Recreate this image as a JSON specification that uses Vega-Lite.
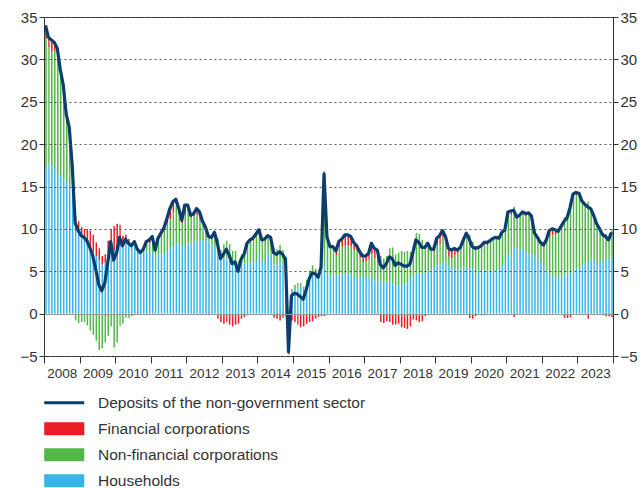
{
"$schema": "https://vega.github.io/schema/vega-lite/v6.json",
"width": 569, "height": 339,
"autosize": {"type": "none"},
"padding": {"left": 44, "top": 17, "right": 29, "bottom": 132},
"config": {
  "view": {"stroke": "#333", "strokeWidth": 1},
  "font": "Liberation Sans, Arial, sans-serif"
},
"data": {"values": [
{"d":"2008-01","t":34.0,"h":17.3,"n":15.2,"f":1.5},
{"d":"2008-02","t":32.6,"h":17.7,"n":13.7,"f":1.2},
{"d":"2008-03","t":32.3,"h":17.5,"n":13.5,"f":1.3},
{"d":"2008-04","t":32.0,"h":17.1,"n":13.9,"f":1.0},
{"d":"2008-05","t":31.3,"h":16.5,"n":14.0,"f":0.8},
{"d":"2008-06","t":28.8,"h":16.2,"n":12.0,"f":0.6},
{"d":"2008-07","t":27.0,"h":15.8,"n":10.4,"f":0.8},
{"d":"2008-08","t":23.5,"h":15.4,"n":7.1,"f":1.0},
{"d":"2008-09","t":22.0,"h":15.2,"n":5.9,"f":0.9},
{"d":"2008-10","t":17.5,"h":14.5,"n":2.5,"f":0.5},
{"d":"2008-11","t":10.7,"h":11.0,"n":-0.8,"f":0.5},
{"d":"2008-12","t":9.8,"h":9.6,"n":-1.1,"f":1.3},
{"d":"2009-01","t":9.2,"h":9.0,"n":-1.0,"f":1.2},
{"d":"2009-02","t":9.0,"h":8.6,"n":-1.0,"f":1.4},
{"d":"2009-03","t":8.6,"h":8.2,"n":-1.4,"f":1.8},
{"d":"2009-04","t":7.8,"h":7.8,"n":-2.0,"f":2.0},
{"d":"2009-05","t":6.8,"h":7.3,"n":-2.5,"f":2.0},
{"d":"2009-06","t":5.2,"h":6.8,"n":-3.2,"f":1.6},
{"d":"2009-07","t":3.4,"h":6.3,"n":-4.3,"f":1.4},
{"d":"2009-08","t":2.7,"h":5.8,"n":-4.1,"f":1.0},
{"d":"2009-09","t":3.6,"h":6.0,"n":-3.4,"f":1.0},
{"d":"2009-10","t":6.0,"h":6.8,"n":-2.6,"f":1.8},
{"d":"2009-11","t":8.5,"h":7.8,"n":-1.5,"f":2.2},
{"d":"2009-12","t":6.3,"h":7.5,"n":-4.0,"f":2.8},
{"d":"2010-01","t":7.2,"h":7.8,"n":-3.4,"f":2.8},
{"d":"2010-02","t":9.0,"h":8.0,"n":-1.5,"f":2.5},
{"d":"2010-03","t":8.0,"h":8.0,"n":-1.2,"f":1.2},
{"d":"2010-04","t":8.8,"h":8.3,"n":-0.5,"f":1.0},
{"d":"2010-05","t":8.3,"h":8.2,"n":-0.5,"f":0.6},
{"d":"2010-06","t":8.0,"h":8.0,"n":-0.3,"f":0.3},
{"d":"2010-07","t":8.5,"h":8.2,"n":0.0,"f":0.3},
{"d":"2010-08","t":7.6,"h":7.5,"n":-0.1,"f":0.2},
{"d":"2010-09","t":7.2,"h":7.2,"n":-0.1,"f":0.1},
{"d":"2010-10","t":7.6,"h":7.2,"n":0.3,"f":0.1},
{"d":"2010-11","t":8.5,"h":7.5,"n":0.7,"f":0.3},
{"d":"2010-12","t":8.7,"h":7.3,"n":1.0,"f":0.4},
{"d":"2011-01","t":9.1,"h":7.0,"n":1.5,"f":0.6},
{"d":"2011-02","t":7.5,"h":6.9,"n":0.4,"f":0.2},
{"d":"2011-03","t":8.9,"h":7.0,"n":1.6,"f":0.3},
{"d":"2011-04","t":9.5,"h":7.0,"n":2.3,"f":0.2},
{"d":"2011-05","t":10.1,"h":7.1,"n":2.8,"f":0.2},
{"d":"2011-06","t":11.2,"h":7.5,"n":3.2,"f":0.5},
{"d":"2011-07","t":12.4,"h":7.7,"n":3.4,"f":1.3},
{"d":"2011-08","t":13.2,"h":7.9,"n":4.1,"f":1.2},
{"d":"2011-09","t":13.5,"h":8.3,"n":4.7,"f":0.5},
{"d":"2011-10","t":12.4,"h":8.2,"n":3.4,"f":0.8},
{"d":"2011-11","t":11.0,"h":8.0,"n":2.7,"f":0.3},
{"d":"2011-12","t":12.8,"h":8.1,"n":3.5,"f":1.2},
{"d":"2012-01","t":12.8,"h":8.3,"n":3.7,"f":0.8},
{"d":"2012-02","t":11.6,"h":8.5,"n":2.8,"f":0.3},
{"d":"2012-03","t":11.8,"h":8.5,"n":3.0,"f":0.3},
{"d":"2012-04","t":12.4,"h":8.5,"n":3.1,"f":0.8},
{"d":"2012-05","t":12.0,"h":8.7,"n":2.4,"f":0.9},
{"d":"2012-06","t":10.9,"h":8.6,"n":2.0,"f":0.3},
{"d":"2012-07","t":10.2,"h":8.7,"n":1.5,"f":0.0},
{"d":"2012-08","t":9.1,"h":8.5,"n":0.8,"f":-0.2},
{"d":"2012-09","t":9.0,"h":8.1,"n":1.0,"f":-0.1},
{"d":"2012-10","t":9.6,"h":7.9,"n":1.7,"f":0.0},
{"d":"2012-11","t":8.3,"h":7.1,"n":1.8,"f":-0.6},
{"d":"2012-12","t":6.5,"h":6.7,"n":0.8,"f":-1.0},
{"d":"2013-01","t":7.0,"h":6.5,"n":1.7,"f":-1.2},
{"d":"2013-02","t":7.6,"h":6.6,"n":2.0,"f":-1.0},
{"d":"2013-03","t":6.9,"h":6.3,"n":1.9,"f":-1.3},
{"d":"2013-04","t":5.9,"h":5.9,"n":1.5,"f":-1.5},
{"d":"2013-05","t":6.1,"h":5.8,"n":1.6,"f":-1.3},
{"d":"2013-06","t":5.0,"h":5.4,"n":0.8,"f":-1.2},
{"d":"2013-07","t":6.4,"h":5.7,"n":1.3,"f":-0.6},
{"d":"2013-08","t":7.0,"h":5.9,"n":1.5,"f":-0.4},
{"d":"2013-09","t":8.3,"h":6.0,"n":2.5,"f":-0.2},
{"d":"2013-10","t":8.7,"h":6.0,"n":2.6,"f":0.1},
{"d":"2013-11","t":8.9,"h":6.1,"n":2.5,"f":0.3},
{"d":"2013-12","t":9.4,"h":6.1,"n":3.0,"f":0.3},
{"d":"2014-01","t":9.9,"h":6.9,"n":2.8,"f":0.2},
{"d":"2014-02","t":8.7,"h":6.3,"n":2.4,"f":0.0},
{"d":"2014-03","t":8.8,"h":6.2,"n":2.5,"f":0.1},
{"d":"2014-04","t":9.2,"h":6.9,"n":2.2,"f":0.1},
{"d":"2014-05","t":9.0,"h":7.1,"n":1.9,"f":0.0},
{"d":"2014-06","t":7.2,"h":5.8,"n":1.9,"f":-0.5},
{"d":"2014-07","t":7.0,"h":5.8,"n":1.8,"f":-0.6},
{"d":"2014-08","t":7.3,"h":5.9,"n":2.2,"f":-0.8},
{"d":"2014-09","t":7.0,"h":5.8,"n":1.7,"f":-0.5},
{"d":"2014-10","t":6.4,"h":5.5,"n":1.2,"f":-0.3},
{"d":"2014-11","t":-4.5,"h":0.3,"n":-2.6,"f":-2.2},
{"d":"2014-12","t":2.1,"h":2.7,"n":0.2,"f":-0.8},
{"d":"2015-01","t":2.4,"h":2.9,"n":0.5,"f":-1.0},
{"d":"2015-02","t":2.3,"h":3.0,"n":0.6,"f":-1.3},
{"d":"2015-03","t":2.0,"h":3.2,"n":0.4,"f":-1.6},
{"d":"2015-04","t":1.7,"h":3.1,"n":0.1,"f":-1.5},
{"d":"2015-05","t":2.8,"h":3.4,"n":0.6,"f":-1.2},
{"d":"2015-06","t":4.1,"h":4.0,"n":1.1,"f":-1.0},
{"d":"2015-07","t":4.8,"h":4.6,"n":1.1,"f":-0.9},
{"d":"2015-08","t":4.7,"h":4.4,"n":0.9,"f":-0.6},
{"d":"2015-09","t":4.3,"h":4.4,"n":0.3,"f":-0.4},
{"d":"2015-10","t":5.5,"h":4.6,"n":1.2,"f":-0.3},
{"d":"2015-11","t":16.5,"h":5.7,"n":11.1,"f":-0.3},
{"d":"2015-12","t":9.0,"h":4.8,"n":4.2,"f":0.0},
{"d":"2016-01","t":7.9,"h":4.4,"n":3.5,"f":0.0},
{"d":"2016-02","t":7.9,"h":4.6,"n":3.2,"f":0.1},
{"d":"2016-03","t":7.4,"h":4.5,"n":2.4,"f":0.5},
{"d":"2016-04","t":8.5,"h":4.6,"n":3.3,"f":0.6},
{"d":"2016-05","t":8.8,"h":4.7,"n":3.2,"f":0.9},
{"d":"2016-06","t":9.3,"h":4.8,"n":3.3,"f":1.2},
{"d":"2016-07","t":9.3,"h":4.7,"n":3.3,"f":1.3},
{"d":"2016-08","t":9.1,"h":4.6,"n":3.3,"f":1.2},
{"d":"2016-09","t":8.4,"h":4.5,"n":3.0,"f":0.9},
{"d":"2016-10","t":8.0,"h":4.3,"n":3.1,"f":0.6},
{"d":"2016-11","t":7.3,"h":4.2,"n":2.4,"f":0.7},
{"d":"2016-12","t":6.8,"h":4.4,"n":1.7,"f":0.7},
{"d":"2017-01","t":6.8,"h":4.4,"n":1.8,"f":0.6},
{"d":"2017-02","t":7.1,"h":4.3,"n":2.1,"f":0.7},
{"d":"2017-03","t":8.3,"h":4.2,"n":2.9,"f":1.2},
{"d":"2017-04","t":7.7,"h":3.9,"n":2.6,"f":1.2},
{"d":"2017-05","t":7.5,"h":3.8,"n":2.3,"f":1.4},
{"d":"2017-06","t":5.8,"h":3.8,"n":3.0,"f":-1.0},
{"d":"2017-07","t":5.4,"h":3.8,"n":2.7,"f":-1.1},
{"d":"2017-08","t":5.9,"h":3.7,"n":3.1,"f":-0.9},
{"d":"2017-09","t":6.7,"h":3.8,"n":3.9,"f":-1.0},
{"d":"2017-10","t":6.5,"h":3.6,"n":4.2,"f":-1.3},
{"d":"2017-11","t":5.7,"h":3.3,"n":3.7,"f":-1.3},
{"d":"2017-12","t":6.0,"h":3.5,"n":3.7,"f":-1.2},
{"d":"2018-01","t":5.8,"h":3.3,"n":4.1,"f":-1.6},
{"d":"2018-02","t":5.6,"h":3.5,"n":3.8,"f":-1.7},
{"d":"2018-03","t":5.6,"h":3.7,"n":3.7,"f":-1.8},
{"d":"2018-04","t":5.8,"h":4.2,"n":3.1,"f":-1.5},
{"d":"2018-05","t":7.2,"h":4.5,"n":3.4,"f":-0.7},
{"d":"2018-06","t":8.7,"h":4.8,"n":4.7,"f":-0.8},
{"d":"2018-07","t":8.4,"h":4.8,"n":4.6,"f":-1.0},
{"d":"2018-08","t":7.8,"h":4.8,"n":3.9,"f":-0.9},
{"d":"2018-09","t":7.8,"h":4.8,"n":3.3,"f":-0.3},
{"d":"2018-10","t":8.3,"h":5.0,"n":3.3,"f":0.0},
{"d":"2018-11","t":7.6,"h":5.2,"n":2.4,"f":0.0},
{"d":"2018-12","t":7.6,"h":5.5,"n":1.8,"f":0.3},
{"d":"2019-01","t":8.9,"h":5.7,"n":2.4,"f":0.8},
{"d":"2019-02","t":9.2,"h":5.8,"n":2.4,"f":1.0},
{"d":"2019-03","t":9.8,"h":5.9,"n":3.1,"f":0.8},
{"d":"2019-04","t":9.1,"h":6.0,"n":2.5,"f":0.6},
{"d":"2019-05","t":7.7,"h":5.6,"n":1.1,"f":1.0},
{"d":"2019-06","t":7.5,"h":5.4,"n":1.1,"f":1.0},
{"d":"2019-07","t":7.7,"h":5.2,"n":1.7,"f":0.8},
{"d":"2019-08","t":7.5,"h":5.2,"n":1.9,"f":0.4},
{"d":"2019-09","t":7.8,"h":5.2,"n":2.4,"f":0.2},
{"d":"2019-10","t":8.7,"h":5.4,"n":3.0,"f":0.3},
{"d":"2019-11","t":9.5,"h":5.4,"n":4.1,"f":0.0},
{"d":"2019-12","t":8.8,"h":5.3,"n":4.0,"f":-0.5},
{"d":"2020-01","t":7.9,"h":5.3,"n":3.2,"f":-0.6},
{"d":"2020-02","t":7.7,"h":5.0,"n":3.0,"f":-0.3},
{"d":"2020-03","t":7.8,"h":4.8,"n":3.0,"f":0.0},
{"d":"2020-04","t":8.0,"h":5.0,"n":3.2,"f":-0.2},
{"d":"2020-05","t":8.4,"h":5.2,"n":3.4,"f":-0.2},
{"d":"2020-06","t":8.4,"h":5.1,"n":3.0,"f":0.3},
{"d":"2020-07","t":8.6,"h":5.0,"n":3.6,"f":0.0},
{"d":"2020-08","t":8.9,"h":5.0,"n":3.9,"f":0.0},
{"d":"2020-09","t":9.0,"h":5.1,"n":3.9,"f":0.0},
{"d":"2020-10","t":8.9,"h":5.5,"n":3.4,"f":0.0},
{"d":"2020-11","t":9.6,"h":5.6,"n":4.0,"f":0.0},
{"d":"2020-12","t":9.9,"h":6.2,"n":3.4,"f":0.3},
{"d":"2021-01","t":12.0,"h":6.9,"n":4.8,"f":0.3},
{"d":"2021-02","t":12.1,"h":7.4,"n":4.2,"f":0.5},
{"d":"2021-03","t":12.2,"h":7.8,"n":4.8,"f":-0.4},
{"d":"2021-04","t":11.4,"h":7.7,"n":3.7,"f":0.0},
{"d":"2021-05","t":11.6,"h":7.6,"n":4.0,"f":0.0},
{"d":"2021-06","t":12.0,"h":7.5,"n":4.3,"f":0.2},
{"d":"2021-07","t":11.8,"h":7.4,"n":4.1,"f":0.3},
{"d":"2021-08","t":11.9,"h":7.0,"n":4.6,"f":0.3},
{"d":"2021-09","t":11.5,"h":7.0,"n":3.9,"f":0.6},
{"d":"2021-10","t":9.5,"h":6.7,"n":2.8,"f":0.0},
{"d":"2021-11","t":9.0,"h":6.4,"n":2.6,"f":0.0},
{"d":"2021-12","t":8.4,"h":6.0,"n":2.4,"f":0.0},
{"d":"2022-01","t":8.1,"h":5.5,"n":2.3,"f":0.3},
{"d":"2022-02","t":8.7,"h":5.0,"n":3.4,"f":0.3},
{"d":"2022-03","t":9.8,"h":4.6,"n":4.5,"f":0.7},
{"d":"2022-04","t":10.0,"h":4.4,"n":4.9,"f":0.7},
{"d":"2022-05","t":9.9,"h":4.3,"n":5.0,"f":0.6},
{"d":"2022-06","t":9.7,"h":4.1,"n":5.6,"f":0.0},
{"d":"2022-07","t":10.3,"h":4.4,"n":5.9,"f":0.0},
{"d":"2022-08","t":10.9,"h":4.7,"n":6.7,"f":-0.5},
{"d":"2022-09","t":11.3,"h":4.7,"n":7.1,"f":-0.5},
{"d":"2022-10","t":12.5,"h":4.8,"n":8.1,"f":-0.4},
{"d":"2022-11","t":14.1,"h":5.0,"n":9.1,"f":0.0},
{"d":"2022-12","t":14.3,"h":5.3,"n":8.7,"f":0.3},
{"d":"2023-01","t":14.2,"h":5.5,"n":8.4,"f":0.3},
{"d":"2023-02","t":13.3,"h":5.7,"n":7.6,"f":0.0},
{"d":"2023-03","t":12.9,"h":5.9,"n":7.0,"f":0.0},
{"d":"2023-04","t":12.6,"h":6.1,"n":7.1,"f":-0.6},
{"d":"2023-05","t":12.4,"h":6.5,"n":5.9,"f":0.0},
{"d":"2023-06","t":11.6,"h":6.3,"n":5.3,"f":0.0},
{"d":"2023-07","t":10.6,"h":6.1,"n":4.5,"f":0.0},
{"d":"2023-08","t":10.0,"h":6.0,"n":4.0,"f":0.0},
{"d":"2023-09","t":9.3,"h":6.3,"n":3.2,"f":-0.2},
{"d":"2023-10","t":9.1,"h":6.4,"n":3.0,"f":-0.3},
{"d":"2023-11","t":8.7,"h":6.4,"n":2.6,"f":-0.3},
{"d":"2023-12","t":9.6,"h":6.7,"n":3.3,"f":-0.4}
]},
"layer": [
{
  "transform": [
    {"fold": ["h", "n", "f"], "as": ["k", "v"]},
    {"calculate": "indexof(['h','n','f'], datum.k)", "as": "o"}
  ],
  "mark": {"type": "bar", "width": {"band": 0.84}},
  "encoding": {
    "x": {"field": "d", "timeUnit": "utcyearmonth", "type": "temporal",
      "scale": {"type": "utc", "domain": [{"year": 2008, "month": 1, "date": 1, "utc": true}, {"year": 2024, "month": 1, "date": 1, "utc": true}]},
      "axis": {"title": null, "tickCount": {"interval": "year", "step": 1},
        "labelExpr": "utcyear(datum.value) > 2023 ? '' : utcFormat(datum.value, '%Y')",
        "labelOffset": 17.8, "labelAlign": "center", "labelFlush": false, "labelOverlap": false,
        "labelFontSize": 13.5, "labelColor": "#333", "labelPadding": 3,
        "tickSize": 7, "tickColor": "#333", "domainColor": "#333", "grid": false}},
    "y": {"field": "v", "type": "quantitative", "stack": "zero",
      "scale": {"domain": [-5, 35], "nice": false},
      "axis": {"orient": "left", "title": null, "values": [-5, 0, 5, 10, 15, 20, 25, 30, 35],
        "tickSize": 5, "tickColor": "#333", "domainColor": "#333",
        "labelFontSize": 15, "labelColor": "#333", "labelPadding": 2,
        "grid": true, "zindex": 1,
        "gridDash": {"condition": {"test": "datum.value === 0", "value": []}, "value": [2, 3]},
        "gridColor": {"condition": {"test": "datum.value === 0", "value": "#999"}, "value": "#555"}}},
    "color": {"field": "k", "type": "nominal",
      "scale": {"domain": ["t", "f", "n", "h"], "range": ["#0b3d6f", "#ec1c24", "#52b748", "#37b5e7"]},
      "legend": {"orient": "none", "legendX": 12.5, "legendY": 378, "direction": "vertical", "title": null, "padding": 0,
        "symbolSize": 169, "symbolType": "M-3.08,-1H3.08V1H-3.08Z", "symbolStrokeWidth": 0,
        "labelFontSize": 15.5, "labelColor": "#333", "labelOffset": 26, "rowPadding": 9, "labelLimit": 500,
        "labelExpr": "datum.label == 't' ? 'Deposits of the non-government sector' : datum.label == 'f' ? 'Financial corporations' : datum.label == 'n' ? 'Non-financial corporations' : 'Households'",
        "encode": {"symbols": {"update": {
          "shape": {"signal": "datum.value == 't' ? 'M-3.08,-0.23H3.08V0.23H-3.08Z' : 'M-3.08,-1H3.08V1H-3.08Z'"},
          "fill": {"scale": "color", "field": "value"},
          "stroke": {"value": "transparent"},
          "opacity": {"value": 1}}}}}},
    "order": {"field": "o", "type": "quantitative"}
  }
},
{
  "mark": {"type": "line", "strokeWidth": 3.2, "strokeJoin": "round"},
  "encoding": {
    "x": {"field": "d", "timeUnit": "utcyearmonth", "type": "temporal", "bandPosition": 0.5},
    "y": {"field": "t", "type": "quantitative",
      "scale": {"domain": [-5, 35], "nice": false},
      "axis": {"orient": "right", "title": null, "values": [-5, 0, 5, 10, 15, 20, 25, 30, 35],
        "tickSize": 5, "tickColor": "#333", "domainColor": "#333",
        "labelFontSize": 15, "labelColor": "#333", "labelPadding": 2, "grid": false}},
    "color": {"datum": "t"}
  }
}
],
"resolve": {"scale": {"y": "independent"}}
}
